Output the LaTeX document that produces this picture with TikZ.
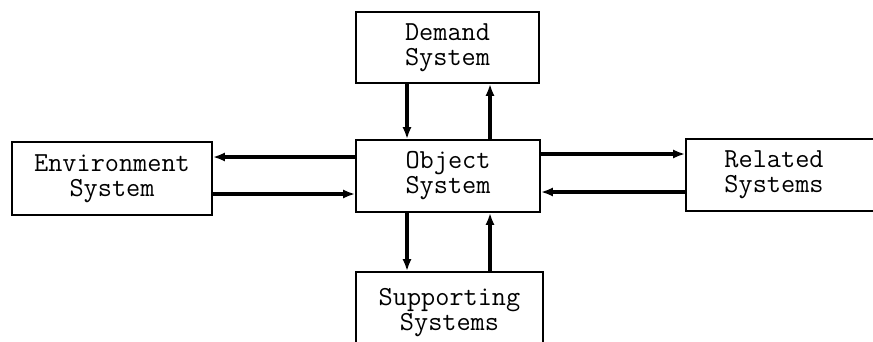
\documentclass[tikz,border=0pt]{standalone}
\usetikzlibrary{arrows.meta,calc}
\begin{document}
\begin{tikzpicture}[x=1pt,y=-1pt,
  txt/.style={align=center,font=\ttfamily\fontsize{27.5}{25}\selectfont},
  box/.style={txt,draw,line width=1.6pt,inner sep=0pt},
  arr/.style={line width=3.6pt,-{Latex[length=12pt,width=9pt]}}]
\useasboundingbox (0,0) rectangle (873,341);
\clip (0,0) rectangle (873,341);
\node[box,minimum width=200pt,minimum height=73pt] (env) at (112,178.5) {Environment\\System};
\node[box,minimum width=184pt,minimum height=72pt] (obj) at (448,176) {Object\\System};
\node[box,minimum width=183pt,minimum height=71pt] (dem) at (447.5,47.5) {Demand\\System};
\node[box,minimum width=187pt,minimum height=82pt] (sup) at (449.5,313) {Supporting\\Systems};
\node[box,minimum width=200pt,minimum height=72pt] (rel) at (786,175) {};
\node[txt] (reltext) at ([xshift=-12pt]rel.center) {Related\\Systems};
% left
\draw[arr] ([yshift=19pt]obj.west) -- ([yshift=19pt]obj.west -| env.east);
\draw[arr] ([yshift=-18pt]obj.west -| env.east) -- ([yshift=-18pt]obj.west);
% right
\draw[arr] ([yshift=22pt]obj.east) -- ([yshift=22pt]obj.east -| rel.west);
\draw[arr] ([yshift=-16pt]obj.east -| rel.west) -- ([yshift=-16pt]obj.east);
% top
\draw[arr] ([xshift=-41pt]obj.north |- dem.south) -- ([xshift=-41pt]obj.north);
\draw[arr] ([xshift=42pt]obj.north) -- ([xshift=42pt]obj.north |- dem.south);
% bottom
\draw[arr] ([xshift=-41pt]obj.south) -- ([xshift=-41pt]obj.south |- sup.north);
\draw[arr] ([xshift=42pt]obj.south |- sup.north) -- ([xshift=42pt]obj.south);
\end{tikzpicture}
\end{document}
